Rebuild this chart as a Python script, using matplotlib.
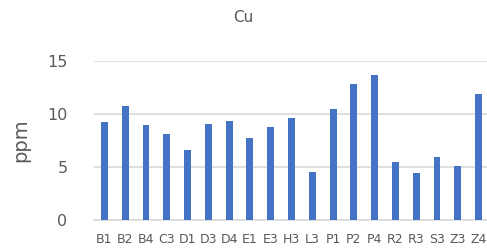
import matplotlib
matplotlib.use("Agg")
import matplotlib.pyplot as plt

categories = ["B1", "B2", "B4", "C3", "D1", "D3", "D4", "E1", "E3", "H3",
              "L3", "P1", "P2", "P4", "R2", "R3", "S3", "Z3", "Z4"]
cu_ppm = [9.2, 10.8, 8.95, 8.15, 6.65, 9.05, 9.3, 7.7, 8.75, 9.65,
          4.55, 10.45, 12.8, 13.7, 5.5, 4.45, 5.95, 5.05, 11.85]
y_ticks = [0, 5, 10, 15]

W, H = 487, 249
fig = plt.figure(figsize=(W / 100, H / 100), dpi=100)
fig.patch.set_facecolor("white")

left, right, bottom, top = 94, 489, 220, 61
ax = fig.add_axes([left / W, 1 - bottom / H, (right - left) / W, (bottom - top) / H])

x = list(range(len(categories)))
ax.bar(x, cu_ppm, width=0.33, color="#4472C4", zorder=3)

ax.set_xlim(-0.5, len(categories) - 0.5)
ax.set_ylim(0, 15)
ax.set_yticks(y_ticks)
ax.set_xticks(x)
ax.set_xticklabels(categories)

text_col = "#595959"
ax.tick_params(axis="y", length=0, pad=19, labelsize=11.5, labelcolor=text_col)
ax.tick_params(axis="x", length=0, pad=9, labelsize=9, labelcolor=text_col)
ax.yaxis.grid(True, color="#d9d9d9", linewidth=1.2, zorder=0)
ax.set_axisbelow(True)
for s in ["top", "right", "left"]:
    ax.spines[s].set_visible(False)
ax.spines["bottom"].set_color("#d9d9d9")
ax.spines["bottom"].set_linewidth(1.2)

ax.set_ylabel("ppm", fontsize=14, color=text_col, labelpad=12)
fig.text(243 / W, 1 - 17 / H, "Cu", ha="center", va="center", fontsize=11, color=text_col)

fig.savefig("out.png", dpi=100, facecolor="white")
